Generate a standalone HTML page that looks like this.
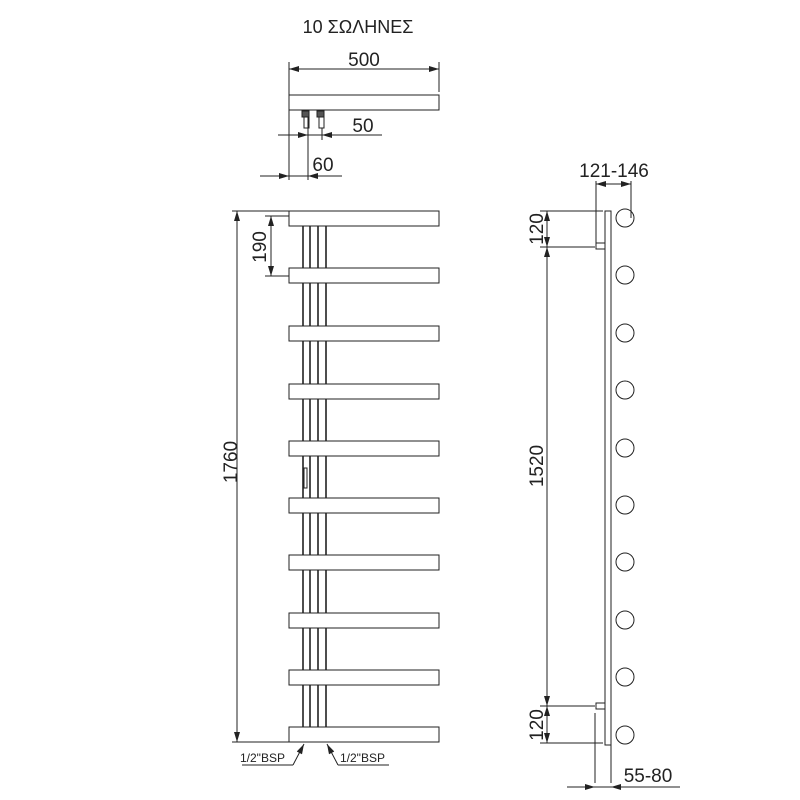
<!DOCTYPE html>
<html><head><meta charset="utf-8"><style>html,body{margin:0;padding:0;background:#fff}svg{display:block}</style></head>
<body>
<svg width="800" height="800" viewBox="0 0 800 800" xmlns="http://www.w3.org/2000/svg" font-family="Liberation Sans, sans-serif" fill="none" stroke="#222" stroke-width="1">
<defs>
<marker id="a" viewBox="0 0 10 6" refX="10" refY="3" markerWidth="11" markerHeight="6" orient="auto-start-reverse" markerUnits="userSpaceOnUse"><path d="M0,0L10,3L0,6z" fill="#222" stroke="none"/></marker>
</defs>
<text x="358" y="33" font-size="18" fill="#222" stroke="none" text-anchor="middle">10 ΣΩΛΗΝΕΣ</text>
<text x="364" y="66" font-size="19" fill="#222" stroke="none" text-anchor="middle">500</text>
<line x1="289" y1="62" x2="289" y2="180"/>
<line x1="439" y1="62" x2="439" y2="92"/>
<line x1="289" y1="69" x2="439" y2="69" marker-start="url(#a)" marker-end="url(#a)"/>
<rect x="289" y="95" width="150" height="15"/>
<rect x="302" y="111" width="7" height="6" fill="#555"/>
<rect x="317" y="111" width="7" height="6" fill="#555"/>
<rect x="304" y="117" width="5" height="11"/>
<rect x="319" y="117" width="5" height="11"/>
<line x1="308" y1="117" x2="308" y2="180"/>
<line x1="322" y1="128" x2="322" y2="140"/>
<line x1="278" y1="135" x2="382" y2="135"/>
<line x1="278" y1="135" x2="308" y2="135" marker-end="url(#a)"/>
<line x1="340" y1="135" x2="322" y2="135" marker-end="url(#a)"/>
<text x="363" y="132" font-size="19" fill="#222" stroke="none" text-anchor="middle">50</text>
<line x1="260" y1="176" x2="342" y2="176"/>
<line x1="260" y1="176" x2="289" y2="176" marker-end="url(#a)"/>
<line x1="330" y1="176" x2="308" y2="176" marker-end="url(#a)"/>
<text x="323" y="171" font-size="19" fill="#222" stroke="none" text-anchor="middle">60</text>
<g stroke-width="1.6">
<line x1="303" y1="226" x2="303" y2="727"/>
<line x1="310" y1="226" x2="310" y2="727"/>
<line x1="318" y1="226" x2="318" y2="727"/>
<line x1="326" y1="226" x2="326" y2="727"/>
</g>
<g fill="#fff">
<rect x="289" y="211" width="150" height="15"/>
<rect x="289" y="268" width="150" height="15"/>
<rect x="289" y="326" width="150" height="15"/>
<rect x="289" y="384" width="150" height="15"/>
<rect x="289" y="441" width="150" height="15"/>
<rect x="289" y="498" width="150" height="15"/>
<rect x="289" y="555" width="150" height="15"/>
<rect x="289" y="613" width="150" height="15"/>
<rect x="289" y="670" width="150" height="15"/>
<rect x="289" y="727" width="150" height="15"/>
</g>
<rect x="304" y="468" width="3" height="20" fill="#fff"/>
<line x1="232" y1="211" x2="289" y2="211"/>
<line x1="232" y1="742" x2="289" y2="742"/>
<line x1="237" y1="211" x2="237" y2="742" marker-start="url(#a)" marker-end="url(#a)"/>
<text transform="translate(237,462) rotate(-90)" font-size="19" fill="#222" stroke="none" text-anchor="middle">1760</text>
<line x1="265" y1="216" x2="289" y2="216"/>
<line x1="265" y1="276" x2="289" y2="276"/>
<line x1="271" y1="216" x2="271" y2="276" marker-start="url(#a)" marker-end="url(#a)"/>
<text transform="translate(266,247) rotate(-90)" font-size="19" fill="#222" stroke="none" text-anchor="middle">190</text>
<text x="240" y="762" font-size="12" fill="#222" stroke="none">1/2"BSP</text>
<line x1="242" y1="765" x2="293" y2="765"/>
<line x1="293" y1="765" x2="304" y2="744" marker-end="url(#a)"/>
<text x="340" y="762" font-size="12" fill="#222" stroke="none">1/2"BSP</text>
<line x1="338" y1="765" x2="389" y2="765"/>
<line x1="338" y1="765" x2="327" y2="744" marker-end="url(#a)"/>
<rect x="605" y="211" width="6" height="534"/>
<g fill="#fff">
<circle cx="625" cy="218" r="9"/><circle cx="625" cy="275" r="9"/><circle cx="625" cy="333" r="9"/>
<circle cx="625" cy="390" r="9"/><circle cx="625" cy="448" r="9"/><circle cx="625" cy="505" r="9"/>
<circle cx="625" cy="562" r="9"/><circle cx="625" cy="620" r="9"/><circle cx="625" cy="677" r="9"/>
<circle cx="625" cy="735" r="9"/>
</g>
<rect x="596" y="243" width="9" height="6"/>
<rect x="596" y="703" width="9" height="6"/>
<text x="614" y="177" font-size="19" fill="#222" stroke="none" text-anchor="middle">121-146</text>
<line x1="596" y1="181" x2="596" y2="246"/>
<line x1="631" y1="181" x2="631" y2="218"/>
<line x1="596" y1="184" x2="631" y2="184"/>
<line x1="613" y1="184" x2="596" y2="184" marker-end="url(#a)"/>
<line x1="613" y1="184" x2="631" y2="184" marker-end="url(#a)"/>
<line x1="540" y1="211" x2="603" y2="211"/>
<line x1="540" y1="247" x2="595" y2="247"/>
<line x1="540" y1="706" x2="595" y2="706"/>
<line x1="540" y1="743" x2="603" y2="743"/>
<line x1="547" y1="211" x2="547" y2="247" marker-start="url(#a)" marker-end="url(#a)"/>
<line x1="547" y1="247" x2="547" y2="706" marker-start="url(#a)" marker-end="url(#a)"/>
<line x1="547" y1="706" x2="547" y2="743" marker-start="url(#a)" marker-end="url(#a)"/>
<text transform="translate(543,229) rotate(-90)" font-size="19" fill="#222" stroke="none" text-anchor="middle">120</text>
<text transform="translate(543,466) rotate(-90)" font-size="19" fill="#222" stroke="none" text-anchor="middle">1520</text>
<text transform="translate(543,725) rotate(-90)" font-size="19" fill="#222" stroke="none" text-anchor="middle">120</text>
<line x1="595" y1="713" x2="595" y2="783"/>
<line x1="611" y1="745" x2="611" y2="783"/>
<line x1="567" y1="787" x2="680" y2="787"/>
<line x1="567" y1="787" x2="595" y2="787" marker-end="url(#a)"/>
<line x1="630" y1="787" x2="611" y2="787" marker-end="url(#a)"/>
<text x="648" y="782" font-size="19" fill="#222" stroke="none" text-anchor="middle">55-80</text>
</svg>
</body></html>
